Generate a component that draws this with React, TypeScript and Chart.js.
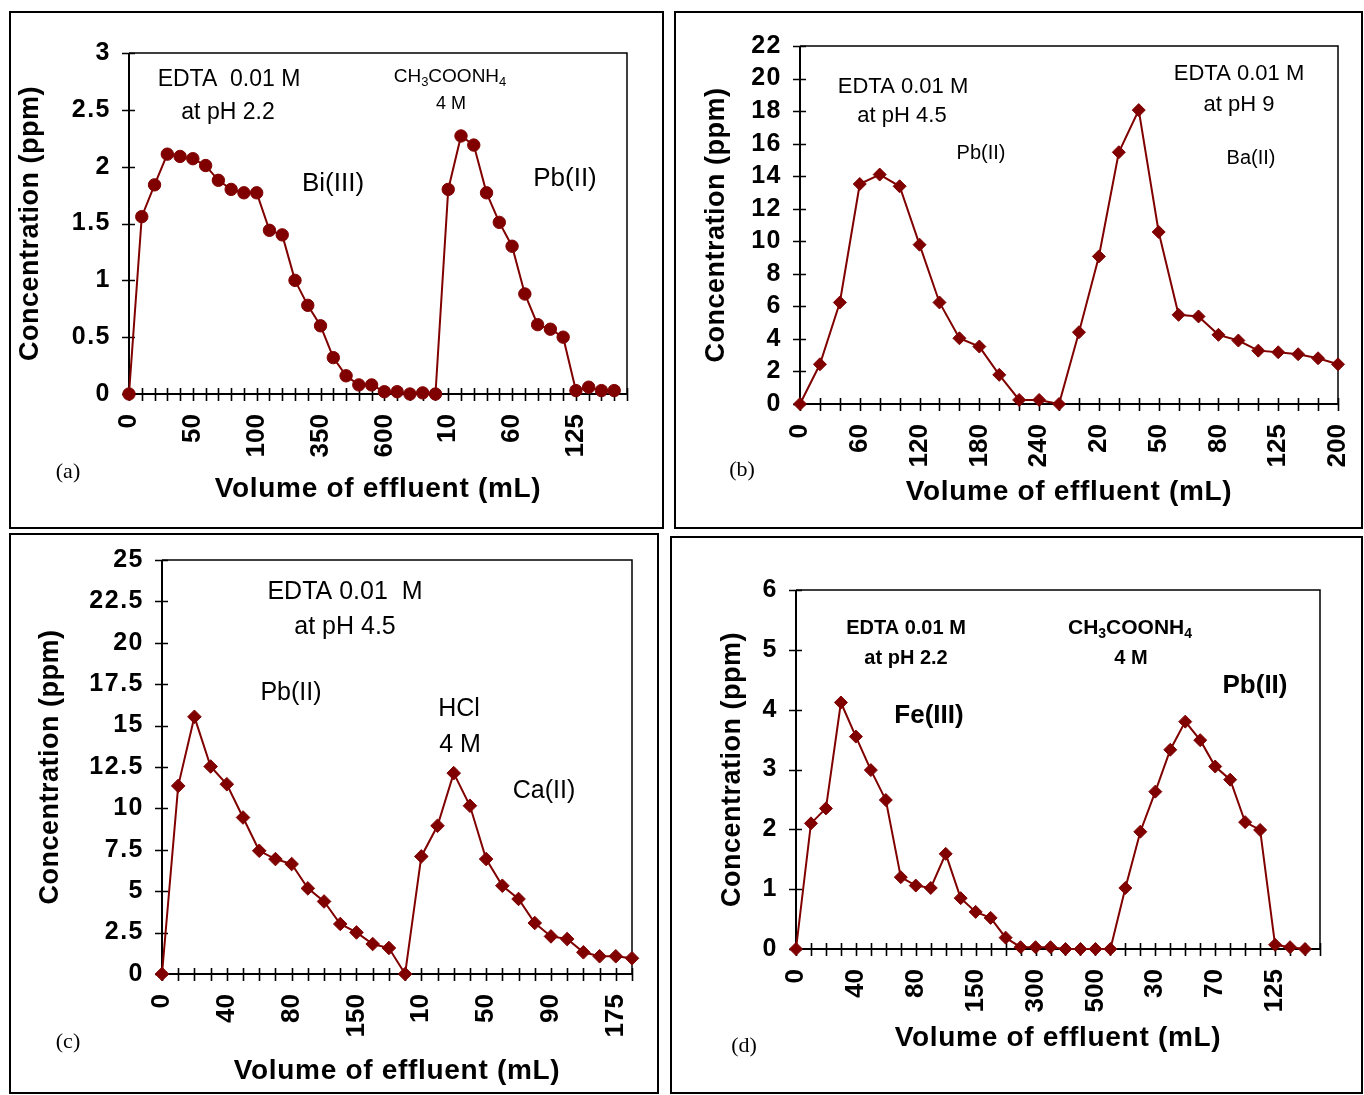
import React, { useEffect, useRef } from 'react';
import { Chart, registerables } from 'chart.js';
Chart.register(...registerables);

const SANS = "'Liberation Sans', Arial, sans-serif";
const SERIF = "'Liberation Serif', 'Times New Roman', serif";
const MAROON = '#800000';

// ---------- DATA ----------
// Panel (a): Bi(III) / Pb(II)
const aLabels = ['0','','','','','50','','','','','100','','','','','350','','','','','600','','','','','10','','','','','60','','','','','125','','','',''];
const aValues: (number | null)[] = [0,1.56,1.84,2.11,2.09,2.07,2.01,1.88,1.80,1.77,1.77,1.44,1.40,1.00,0.78,0.60,0.32,0.16,0.08,0.08,0.02,0.02,0.0,0.01,0.0,1.80,2.27,2.19,1.77,1.51,1.30,0.88,0.61,0.57,0.50,0.03,0.06,0.03,0.03,null];
const aYTicks = { max: 3, step: 0.5 };

// Panel (b): Pb(II) / Ba(II)
const bLabels = ['0','','','60','','','120','','','180','','','240','','','20','','','50','','','80','','','125','','','200'];
const bValues: (number | null)[] = [0,2.44,6.24,13.52,14.1,13.38,9.79,6.24,4.04,3.53,1.79,0.25,0.25,0,4.41,9.07,15.47,18.06,10.57,5.48,5.38,4.25,3.9,3.28,3.18,3.06,2.81,2.44];
const bYTicks = { max: 22, step: 2 };

// Panel (c): Pb(II) / Ca(II)
const cLabels = ['0','','','','40','','','','80','','','','150','','','','10','','','','50','','','','90','','','','175',''];
const cValues: (number | null)[] = [0,11.36,15.53,12.53,11.46,9.45,7.44,6.94,6.64,5.17,4.38,3.02,2.51,1.81,1.57,0,7.1,8.95,12.13,10.16,6.94,5.33,4.53,3.08,2.27,2.11,1.31,1.07,1.07,0.95];
const cYTicks = { max: 25, step: 2.5 };

// Panel (d): Fe(III) / Pb(II)
const dLabels = ['0','','','','40','','','','80','','','','150','','','','300','','','','500','','','','30','','','','70','','','','125','','',''];
const dValues: (number | null)[] = [0,2.10,2.35,4.12,3.55,2.99,2.49,1.20,1.06,1.02,1.59,0.85,0.62,0.52,0.19,0.03,0.03,0.03,0,0,0,0,1.02,1.96,2.63,3.33,3.80,3.49,3.05,2.83,2.12,1.99,0.07,0.03,0.0,null];
const dYTicks = { max: 6, step: 1 };

const X_TITLE = 'Volume of effluent (mL)';
const Y_TITLE = 'Concentration (ppm)';

// ---------- LAYOUT / STYLE ----------
type Part = { t: string; sub?: boolean };
type Ann = { parts: Part[]; x: number; y: number; size: number; bold?: boolean; serif?: boolean };
type PanelCfg = {
  id: string;
  box: { left: number; top: number; width: number; height: number };
  plot: { left: number; top: number; right: number; bottom: number };
  labels: string[];
  values: (number | null)[];
  yMax: number;
  yStep: number;
  marker: string;
  radius: number;
  xTitlePad: number;
  yTitlePad: number;
  anns: Ann[];
};

const T = (t: string): Part[] => [{ t }];
const CH3COONH4: Part[] = [{ t: 'CH' }, { t: '3', sub: true }, { t: 'COONH' }, { t: '4', sub: true }];

const panels: PanelCfg[] = [
  {
    id: 'a',
    box: { left: 9, top: 11, width: 655, height: 518 },
    plot: { left: 129, top: 53, right: 627, bottom: 394 },
    labels: aLabels, values: aValues, yMax: aYTicks.max, yStep: aYTicks.step,
    marker: 'circle', radius: 6.2,
    xTitlePad: 21, yTitlePad: 3,
    anns: [
      { parts: T('EDTA  0.01 M'), x: 229, y: 80, size: 23 },
      { parts: T('at pH 2.2'), x: 228, y: 113, size: 23 },
      { parts: CH3COONH4, x: 450, y: 77, size: 19 },
      { parts: T('4 M'), x: 451, y: 104, size: 18 },
      { parts: T('Bi(III)'), x: 333, y: 184, size: 26 },
      { parts: T('Pb(II)'), x: 565, y: 179, size: 26 },
      { parts: T('(a)'), x: 68, y: 472, size: 22, serif: true },
    ],
  },
  {
    id: 'b',
    box: { left: 674, top: 11, width: 689, height: 518 },
    plot: { left: 800, top: 46, right: 1338, bottom: 404 },
    labels: bLabels, values: bValues, yMax: bYTicks.max, yStep: bYTicks.step,
    marker: 'rectRot', radius: 6.5,
    xTitlePad: 18, yTitlePad: 24,
    anns: [
      { parts: T('EDTA 0.01 M'), x: 903, y: 87, size: 22 },
      { parts: T('at pH 4.5'), x: 902, y: 116, size: 22 },
      { parts: T('Pb(II)'), x: 981, y: 153, size: 20 },
      { parts: T('EDTA 0.01 M'), x: 1239, y: 74, size: 22 },
      { parts: T('at pH 9'), x: 1239, y: 105, size: 22 },
      { parts: T('Ba(II)'), x: 1251, y: 158, size: 20 },
      { parts: T('(b)'), x: 742, y: 470, size: 22, serif: true },
    ],
  },
  {
    id: 'c',
    box: { left: 9, top: 533, width: 650, height: 561 },
    plot: { left: 162, top: 560, right: 632, bottom: 974 },
    labels: cLabels, values: cValues, yMax: cYTicks.max, yStep: cYTicks.step,
    marker: 'rectRot', radius: 6.8,
    xTitlePad: 4, yTitlePad: 23,
    anns: [
      { parts: T('EDTA 0.01  M'), x: 345, y: 592, size: 25 },
      { parts: T('at pH 4.5'), x: 345, y: 627, size: 25 },
      { parts: T('Pb(II)'), x: 291, y: 693, size: 25 },
      { parts: T('HCl'), x: 459, y: 709, size: 25 },
      { parts: T('4 M'), x: 460, y: 745, size: 25 },
      { parts: T('Ca(II)'), x: 544, y: 791, size: 25 },
      { parts: T('(c)'), x: 68, y: 1042, size: 22, serif: true },
    ],
  },
  {
    id: 'd',
    box: { left: 670, top: 536, width: 693, height: 558 },
    plot: { left: 796, top: 590, right: 1320, bottom: 949 },
    labels: dLabels, values: dValues, yMax: dYTicks.max, yStep: dYTicks.step,
    marker: 'rectRot', radius: 6.5,
    xTitlePad: 37, yTitlePad: 44,
    anns: [
      { parts: T('EDTA 0.01 M'), x: 906, y: 628, size: 20, bold: true },
      { parts: T('at pH 2.2'), x: 906, y: 658, size: 20, bold: true },
      { parts: CH3COONH4, x: 1130, y: 628, size: 21, bold: true },
      { parts: T('4 M'), x: 1131, y: 658, size: 20, bold: true },
      { parts: T('Fe(III)'), x: 929, y: 716, size: 26, bold: true },
      { parts: T('Pb(II)'), x: 1255, y: 686, size: 26, bold: true },
      { parts: T('(d)'), x: 744, y: 1046, size: 22, serif: true },
    ],
  },
];

const BORDER = 2;

// wrap a scale drawing method so its text is drawn with extra letter spacing
function withSpacing(s: any, key: string, sp: string) {
  const orig = s[key];
  s[key] = function (...args: any[]) {
    const ctx = this.ctx;
    const prev = ctx.letterSpacing;
    ctx.letterSpacing = sp;
    try {
      return orig.apply(this, args);
    } finally {
      ctx.letterSpacing = prev === undefined ? '0px' : prev;
    }
  };
}

const framePlugin = {
  id: 'crossFrame',
  beforeDatasetsDraw(chart: any) {
    const { ctx, chartArea: a, scales } = chart;
    const x = scales.x, y = scales.y;
    ctx.save();
    ctx.strokeStyle = '#000';
    ctx.lineWidth = 1.5;
    ctx.beginPath();
    ctx.moveTo(a.left, a.top);
    ctx.lineTo(a.right, a.top);
    ctx.lineTo(a.right, a.bottom);
    ctx.stroke();
    ctx.lineWidth = 2;
    ctx.beginPath();
    ctx.moveTo(a.left, a.top);
    ctx.lineTo(a.left, a.bottom);
    ctx.lineTo(a.right, a.bottom);
    ctx.stroke();
    ctx.lineWidth = 1.6;
    ctx.beginPath();
    x.ticks.forEach((_: any, i: number) => {
      const px = Math.round(x.getPixelForTick(i)) + 0.5;
      ctx.moveTo(px, a.bottom - 6);
      ctx.lineTo(px, a.bottom + 7);
    });
    y.ticks.forEach((_: any, i: number) => {
      const py = Math.round(y.getPixelForTick(i)) + 0.5;
      ctx.moveTo(a.left - 7, py);
      ctx.lineTo(a.left + 6, py);
    });
    ctx.stroke();
    ctx.restore();
  },
};

function makeAnnPlugin(anns: Ann[], ox: number, oy: number) {
  return {
    id: 'annotations',
    afterDatasetsDraw(chart: any) {
      const ctx = chart.ctx;
      ctx.save();
      ctx.fillStyle = '#000';
      ctx.textBaseline = 'middle';
      ctx.textAlign = 'left';
      anns.forEach((an) => {
        const fam = an.serif ? SERIF : SANS;
        const w = an.bold ? 'bold ' : '';
        const fontFor = (p: Part) => `${w}${p.sub ? Math.round(an.size * 0.68) : an.size}px ${fam}`;
        let total = 0;
        an.parts.forEach((p) => { ctx.font = fontFor(p); total += ctx.measureText(p.t).width; });
        let cx = an.x - ox - total / 2;
        const cy = an.y - oy;
        an.parts.forEach((p) => {
          ctx.font = fontFor(p);
          ctx.fillText(p.t, cx, p.sub ? cy + an.size * 0.3 : cy);
          cx += ctx.measureText(p.t).width;
        });
      });
      ctx.restore();
    },
  };
}

function Panel({ cfg }: { cfg: PanelCfg }) {
  const ref = useRef<HTMLCanvasElement | null>(null);
  const cw = cfg.box.width - 2 * BORDER;
  const ch = cfg.box.height - 2 * BORDER;
  const ox = cfg.box.left + BORDER;
  const oy = cfg.box.top + BORDER;

  useEffect(() => {
    if (!ref.current) return;
    const yWidth = cfg.plot.left - ox;
    const xHeight = oy + ch - cfg.plot.bottom;
    const xTickFont = { family: SANS, size: 26, weight: 'bold' as const };
    const yTickFont = { family: SANS, size: 25, weight: 'bold' as const };
    const xTitleFont = { family: SANS, size: 28, weight: 'bold' as const };
    const yTitleFont = { family: SANS, size: 27, weight: 'bold' as const };
    const chart = new Chart(ref.current, {
      type: 'line',
      data: {
        labels: cfg.labels,
        datasets: [
          {
            data: cfg.values,
            borderColor: MAROON,
            backgroundColor: MAROON,
            borderWidth: 2,
            pointStyle: cfg.marker as any,
            pointRadius: cfg.radius,
            pointBackgroundColor: MAROON,
            pointBorderColor: MAROON,
            pointBorderWidth: 1,
            tension: 0,
            clip: false as any,
          },
        ],
      },
      options: {
        animation: false,
        responsive: false,
        devicePixelRatio: 1,
        events: [],
        layout: {
          padding: {
            left: 0,
            top: cfg.plot.top - oy,
            right: ox + cw - cfg.plot.right,
            bottom: 0,
          },
        },
        plugins: { legend: { display: false }, tooltip: { enabled: false } },
        scales: {
          x: {
            type: 'category',
            offset: false,
            grid: { display: false, drawTicks: false },
            border: { display: false },
            ticks: {
              autoSkip: false,
              minRotation: 90,
              maxRotation: 90,
              padding: 20,
              color: '#000',
              font: xTickFont,
            },
            title: {
              display: true,
              text: X_TITLE,
              color: '#000',
              font: xTitleFont,
              padding: { top: 0, bottom: cfg.xTitlePad },
            },
            afterFit: (s: any) => {
              s.height = xHeight;
              s.paddingLeft = 0;
              s.paddingRight = 0;
              if (!s.__spaced) {
                withSpacing(s, 'drawTitle', '0.7px');
                s.__spaced = true;
              }
            },
          },
          y: {
            min: 0,
            max: cfg.yMax,
            grid: { display: false, drawTicks: false },
            border: { display: false },
            ticks: {
              stepSize: cfg.yStep,
              autoSkip: false,
              maxTicksLimit: 100,
              padding: 18,
              color: '#000',
              font: yTickFont,
              callback: (v: any) => String(Math.round(Number(v) * 100) / 100),
            },
            title: {
              display: true,
              text: Y_TITLE,
              color: '#000',
              font: yTitleFont,
              padding: { top: cfg.yTitlePad, bottom: 0 },
            },
            afterFit: (s: any) => {
              s.width = yWidth;
              s.paddingTop = 0;
              s.paddingBottom = 0;
              if (!s.__spaced) {
                withSpacing(s, 'drawLabels', '1.5px');
                withSpacing(s, 'drawTitle', '0.5px');
                s.__spaced = true;
              }
            },
          },
        },
      },
      plugins: [framePlugin, makeAnnPlugin(cfg.anns, ox, oy)],
    });
    return () => chart.destroy();
  }, []);

  return (
    <div
      style={{
        position: 'absolute',
        left: cfg.box.left,
        top: cfg.box.top,
        width: cfg.box.width,
        height: cfg.box.height,
        border: `${BORDER}px solid #000`,
        boxSizing: 'border-box',
        background: '#fff',
      }}
    >
      <canvas ref={ref} width={cw} height={ch} style={{ display: 'block', width: cw, height: ch }} />
    </div>
  );
}

export default function App() {
  return (
    <div style={{ position: 'absolute', left: 0, top: 0, width: 1364, height: 1095, background: '#fff', overflow: 'hidden' }}>
      {panels.map((p) => (
        <Panel key={p.id} cfg={p} />
      ))}
    </div>
  );
}
